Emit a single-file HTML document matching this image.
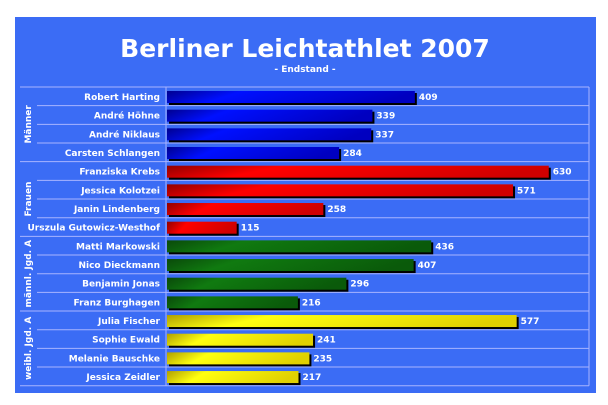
<!DOCTYPE html>
<html><head><meta charset="utf-8"><style>
body{margin:0;background:#fff;width:608px;height:405px;overflow:hidden;font-family:"DejaVu Sans","Liberation Sans",sans-serif}
svg{display:block}
</style></head><body>
<svg width="608" height="405">
<defs>
<linearGradient id="gb" x1="0" y1="0" x2="1" y2="0.15"><stop offset="0" stop-color="#000090"/><stop offset="0.3" stop-color="#0010ff"/><stop offset="1" stop-color="#0000c0"/></linearGradient>
<linearGradient id="gr" x1="0" y1="0" x2="1" y2="0.15"><stop offset="0" stop-color="#900000"/><stop offset="0.3" stop-color="#ff0000"/><stop offset="1" stop-color="#d00000"/></linearGradient>
<linearGradient id="gg" x1="0" y1="0" x2="1" y2="0.15"><stop offset="0" stop-color="#0a4a0a"/><stop offset="0.3" stop-color="#107a10"/><stop offset="1" stop-color="#0a5a0a"/></linearGradient>
<linearGradient id="gy" x1="0" y1="0" x2="1" y2="0.15"><stop offset="0" stop-color="#b0a000"/><stop offset="0.3" stop-color="#ffff10"/><stop offset="1" stop-color="#e0d000"/></linearGradient>
</defs>
<rect x="15" y="17" width="581" height="376" fill="#3b6cf5"/>
<text x="305" y="57" text-anchor="middle" fill="#fff" font-size="25" font-weight="bold">Berliner Leichtathlet 2007</text>
<text x="305" y="72" text-anchor="middle" fill="#fff" font-size="9" font-weight="bold">- Endstand -</text>
<g id="plot"></g>
</svg>
<script>
const names=["Robert Harting","André Höhne","André Niklaus","Carsten Schlangen","Franziska Krebs","Jessica Kolotzei","Janin Lindenberg","Urszula Gutowicz-Westhof","Matti Markowski","Nico Dieckmann","Benjamin Jonas","Franz Burghagen","Julia Fischer","Sophie Ewald","Melanie Bauschke","Jessica Zeidler"];
const values=[409,339,337,284,630,571,258,115,436,407,296,216,577,241,235,217];
const groups=["Männer","Frauen","männl. Jgd. A","weibl. Jgd. A"];
const fills=["url(#gb)","url(#gr)","url(#gg)","url(#gy)"];
const ns="http://www.w3.org/2000/svg";
const g=document.getElementById('plot');
const top0=87,rowH=18.67,x0=167,k=0.606,right=589;
const xs=v=>x0+v*k;
function mk(t,a){const e=document.createElementNS(ns,t);for(const q in a)e.setAttribute(q,a[q]);g.appendChild(e);return e;}
for(let i=0;i<=names.length;i++){
  const y=top0+i*rowH;
  const grp=i%4===0;
  const l=mk('line',{x1:grp?20:37,x2:right,y1:y,y2:y,stroke:'#a8b4ff','stroke-width':1});
  
  
}
const ax=mk('line',{x1:166,x2:166,y1:top0,y2:top0+names.length*rowH,stroke:'#a8b4ff'});


const rl=mk('line',{x1:right,x2:right,y1:top0,y2:top0+names.length*rowH,stroke:'#a8b4ff'});


names.forEach((n,i)=>{
  const y=top0+i*rowH, gi=Math.floor(i/4);
  const t=mk('text',{x:160,y:y+13,'text-anchor':'end',fill:'#fff','font-size':9,'font-weight':'bold'});
  t.textContent=n;
  
  
  const w=xs(values[i])-x0;
  const sh=mk('rect',{x:x0+2,y:y+6,width:w,height:12,fill:'#000'});
  
  
  const b=mk('rect',{x:x0,y:y+4,width:w,height:12,fill:fills[gi]});
  
  
  const v=mk('text',{x:xs(values[i])+4,y:y+13,fill:'#fff','font-size':9,'font-weight':'bold'});
  v.textContent=values[i];
  
  
});
groups.forEach((gname,j)=>{
  const cy=top0+(j*4+2)*rowH, cx=31;
  const t=mk('text',{x:cx,y:cy,'text-anchor':'middle',fill:'#fff','font-size':9,'font-weight':'bold',transform:`rotate(-90 ${cx} ${cy})`});
  t.textContent=gname;
  
  
});
</script>
</body></html>
